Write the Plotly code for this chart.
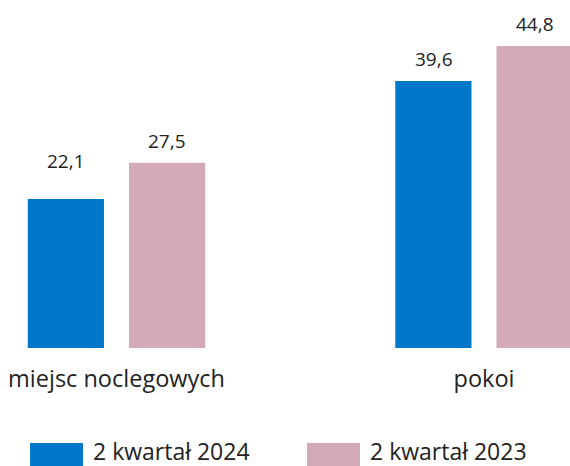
import plotly.graph_objects as go

# Data
categories = ["miejsc noclegowych", "pokoi"]
series_names = ["2 kwartał 2024", "2 kwartał 2023"]
values_2024 = [22.1, 39.6]
values_2023 = [27.5, 44.8]

# Style
colors = ["#0077C8", "#D3AAB5"]
text_color = "#222222"
font_family = "Open Sans"
W, H = 570, 466
plot_h = 348  # pixel height of the plotting area (baseline at its bottom)
label_shift = {("2 kwartał 2024", 0): 38}  # extra lift for one label, others use default
default_shift = 22
bar_offset_px = 50.5


def paper_x(px):
    return px / W


def paper_y(py):
    return (plot_h - py) / plot_h


fig = go.Figure()
for name, vals, col in zip(series_names, [values_2024, values_2023], colors):
    fig.add_trace(go.Bar(
        x=categories, y=vals, name=name, marker_color=col,
        marker_line_width=0, showlegend=False, hoverinfo="skip",
    ))

# value labels above the bars
annotations = []
for si, (name, vals) in enumerate(zip(series_names, [values_2024, values_2023])):
    for ci, (cat, v) in enumerate(zip(categories, vals)):
        annotations.append(dict(
            x=cat, y=v, xref="x", yref="y",
            text=f"{v:.1f}".replace(".", ","),
            showarrow=False, xanchor="center", yanchor="middle",
            xshift=(-1 if si == 0 else 1) * bar_offset_px,
            yshift=label_shift.get((name, ci), default_shift),
            font=dict(family=font_family, size=19, color=text_color),
        ))

# custom legend: wide swatches with labels
legend_items = [(30, 92), (307, 369)]
shapes = []
for (sx, tx), name, col in zip(legend_items, series_names, colors):
    shapes.append(dict(
        type="rect", xref="paper", yref="paper",
        x0=paper_x(sx), x1=paper_x(sx + 53),
        y0=paper_y(466), y1=paper_y(443),
        fillcolor=col, line=dict(width=0), layer="above",
    ))
    annotations.append(dict(
        x=paper_x(tx), y=paper_y(450.5), xref="paper", yref="paper",
        text=name, showarrow=False, xanchor="left", yanchor="middle",
        borderpad=0,
        font=dict(family=font_family, size=23, color=text_color),
    ))

# category scale: centres at 116.5 px and 484 px across the full width
scale = 484 - 116.5
x0 = -116.5 / scale
x1 = x0 + W / scale

fig.update_layout(
    width=W, height=H,
    margin=dict(l=0, r=0, t=0, b=H - plot_h, pad=0),
    paper_bgcolor="white", plot_bgcolor="white",
    barmode="group", bargap=0.449, bargroupgap=0.2475,
    xaxis=dict(
        type="category", range=[x0, x1], showgrid=False, zeroline=False,
        showline=False, ticks="", ticklabelstandoff=14,
        tickfont=dict(family=font_family, size=23.5, color=text_color),
    ),
    yaxis=dict(
        range=[0, plot_h / 6.74], visible=False, showgrid=False, zeroline=False,
    ),
    shapes=shapes,
    annotations=annotations,
)

fig.write_html("out.html")
